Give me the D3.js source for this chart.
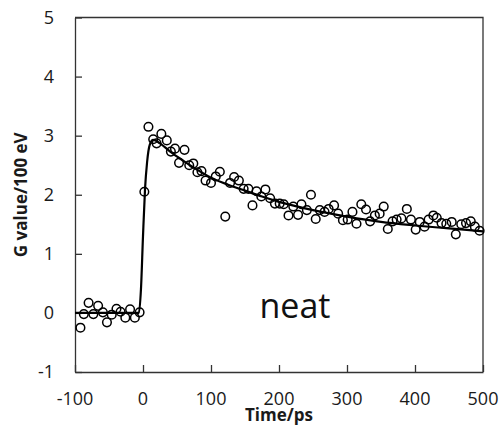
<!DOCTYPE html>
<html>
<head>
<meta charset="utf-8">
<script src="https://cdn.jsdelivr.net/npm/d3@7"></script>
<style>
  body { margin: 0; background: #fff; }
  svg { display: block; }
</style>
</head>
<body>
<div id="chart"></div>
<script>
// measured points (time in ps, G value per 100 eV)
const timePts = [-92, -87, -80, -73, -66, -59, -53, -46, -39, -33, -26, -19, -12, -5,
    2, 8, 15, 20, 27, 35, 41, 47, 53, 61, 68, 74, 80, 86, 92, 100, 107, 113,
    121, 128, 134, 141, 148, 155, 161, 167, 174, 180, 187, 194, 201, 207, 214, 221,
    228, 233, 241, 247, 254, 260, 267, 273, 281, 287, 294, 301, 308, 314, 321, 328,
    334, 341, 348, 354, 360, 367, 373, 380, 388, 394, 401, 407, 414, 420, 427, 432,
    439, 446, 454, 460, 468, 475, 482, 488, 495];
const gPts = [-0.25, -0.02, 0.17, -0.02, 0.12, 0.01, -0.16, -0.03, 0.07, 0.02, -0.08, 0.06, -0.08, 0.01,
    2.05, 3.15, 2.94, 2.87, 3.03, 2.92, 2.73, 2.78, 2.54, 2.76, 2.50, 2.53, 2.38, 2.40, 2.24, 2.20, 2.31, 2.39,
    1.63, 2.20, 2.30, 2.24, 2.10, 2.10, 1.82, 2.06, 1.97, 2.09, 1.94, 1.85, 1.85, 1.84, 1.65, 1.80,
    1.66, 1.84, 1.74, 2.00, 1.59, 1.74, 1.71, 1.76, 1.82, 1.68, 1.57, 1.58, 1.71, 1.51, 1.84, 1.75,
    1.55, 1.65, 1.68, 1.80, 1.42, 1.55, 1.58, 1.60, 1.76, 1.58, 1.41, 1.54, 1.46, 1.58, 1.65, 1.61,
    1.52, 1.51, 1.54, 1.33, 1.50, 1.52, 1.55, 1.46, 1.39];

// fitted curve
const fitTime = [-100, -6, -3, 0, 3, 6, 10, 15, 25, 40, 60, 80, 100, 125, 150, 175, 200, 250, 300, 350, 400, 450, 500];
const fitG    = [0, 0, 0.4, 1.3, 2.1, 2.55, 2.85, 2.93, 2.87, 2.73, 2.57, 2.42, 2.29, 2.17, 2.07, 1.97, 1.88, 1.74, 1.63, 1.54, 1.48, 1.43, 1.38];

const xTicks = [-100, 0, 100, 200, 300, 400, 500];
const yTicks = [-1, 0, 1, 2, 3, 4, 5];

var width = 501, height = 425;
var pLeft = 75, pRight = 483, pTop = 17.5, pBottom = 372;

var svg = d3.select("#chart").append("svg")
    .attr("width", width)
    .attr("height", height)
    .style("font-family", "'Open Sans', sans-serif");

svg.append("rect").attr("width", width).attr("height", height).attr("fill", "#fff");

var x = d3.scaleLinear().domain([-100, 500]).range([pLeft, pRight]);
var y = d3.scaleLinear().domain([-1, 5]).range([pBottom, pTop]);

// axes with ticks pointing inward
var xAxis = svg.append("g")
    .attr("transform", "translate(0," + pBottom + ")")
    .call(d3.axisBottom(x).tickValues(xTicks).tickSize(-7).tickSizeOuter(0).tickFormat(""));
var yAxis = svg.append("g")
    .attr("transform", "translate(" + pLeft + ",0)")
    .call(d3.axisLeft(y).tickValues(yTicks).tickSize(-7).tickSizeOuter(0).tickFormat(""));
[xAxis, yAxis].forEach(function(g) {
    g.select(".domain").attr("stroke", "#333").attr("stroke-width", 1.3);
    g.selectAll(".tick line").attr("stroke", "#333").attr("stroke-width", 1.3);
});

// top and right of the box
svg.append("path")
    .attr("d", "M" + pLeft + "," + pTop + "H" + pRight + "V" + pBottom)
    .attr("fill", "none")
    .attr("stroke", "#333")
    .attr("stroke-width", 1.3);

// tick labels
svg.selectAll(".xlbl")
    .data(xTicks)
    .enter()
    .append("text")
        .attr("x", d => x(d))
        .attr("y", 405)
        .attr("text-anchor", "middle")
        .attr("font-size", "18px")
        .attr("fill", "#1a1a1a")
        .text(d => d);
svg.selectAll(".ylbl")
    .data(yTicks)
    .enter()
    .append("text")
        .attr("x", pLeft - 21)
        .attr("y", d => y(d))
        .attr("dy", "0.35em")
        .attr("text-anchor", "end")
        .attr("font-size", "18px")
        .attr("fill", "#1a1a1a")
        .text(d => d);

// axis titles
svg.append("text")
    .attr("x", (pLeft + pRight) / 2)
    .attr("y", 421)
    .attr("text-anchor", "middle")
    .attr("font-size", "17px")
    .attr("font-weight", "bold")
    .attr("fill", "#1a1a1a")
    .text("Time/ps");
svg.append("text")
    .attr("transform", "translate(27," + (pTop + pBottom) / 2 + ") rotate(-90)")
    .attr("text-anchor", "middle")
    .attr("font-size", "17px")
    .attr("font-weight", "bold")
    .attr("fill", "#1a1a1a")
    .text("G value/100 eV");

// fitted line
var line = d3.line()
    .x(d => x(d[0]))
    .y(d => y(d[1]))
    .curve(d3.curveMonotoneX);
svg.append("path")
    .datum(fitTime.map((t, i) => [t, fitG[i]]))
    .attr("d", line)
    .attr("fill", "none")
    .attr("stroke", "#000")
    .attr("stroke-width", 2.2);

// data circles
svg.selectAll(".pt")
    .data(timePts.map((t, i) => [t, gPts[i]]))
    .enter()
    .append("circle")
        .attr("cx", d => x(d[0]))
        .attr("cy", d => y(d[1]))
        .attr("r", 4.3)
        .attr("fill", "none")
        .attr("stroke", "#000")
        .attr("stroke-width", 1.5);

// sample label
svg.append("text")
    .attr("x", 295)
    .attr("y", 318)
    .attr("text-anchor", "middle")
    .attr("font-size", "34px")
    .attr("fill", "#111")
    .text("neat");
</script>
</body>
</html>
